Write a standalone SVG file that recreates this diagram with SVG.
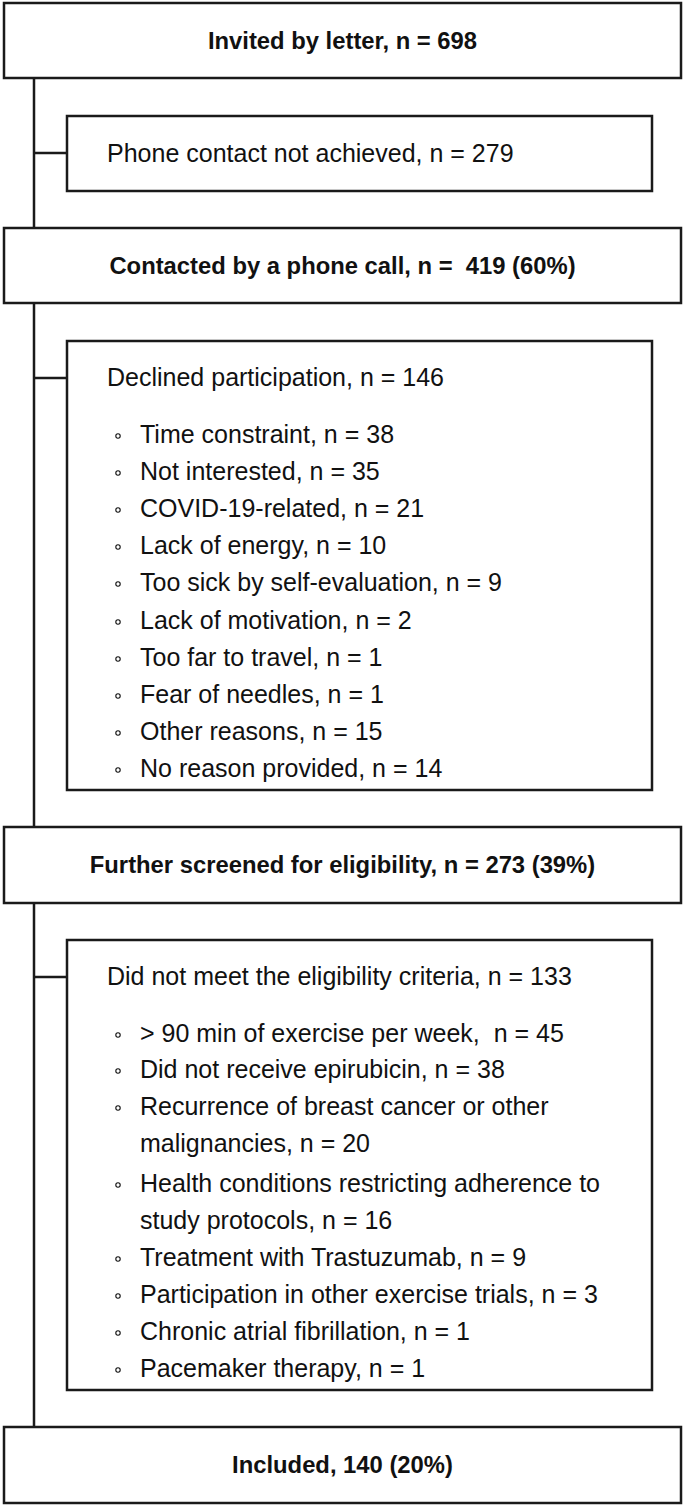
<svg xmlns="http://www.w3.org/2000/svg" width="685" height="1506" viewBox="0 0 685 1506">
<style>
.box{fill:#ffffff;stroke:#1a1a1a;stroke-width:2.5}
.ln{stroke:#1a1a1a;stroke-width:2.5;fill:none}
.t{font-family:"Liberation Sans",Arial,sans-serif;font-size:25px;fill:#111111}
.b{font-family:"Liberation Sans",Arial,sans-serif;font-size:23.8px;font-weight:bold;fill:#111111;text-anchor:middle}
.bul{fill:none;stroke:#111111;stroke-width:1.1}
</style>
<rect width="685" height="1506" fill="#ffffff"/>
<g id="connectors">
<line class="ln" x1="34" y1="78" x2="34" y2="1427"/>
<line class="ln" x1="34" y1="153" x2="67" y2="153"/>
<line class="ln" x1="34" y1="378" x2="67" y2="378"/>
<line class="ln" x1="34" y1="977" x2="67" y2="977"/>
</g>
<g id="invited">
<rect class="box" x="4" y="3" width="677" height="75"/>
<text class="b" x="342.5" y="49">Invited by letter, n = 698</text>
</g>
<g id="no-contact">
<rect class="box" x="67" y="116" width="585" height="75"/>
<text class="t" x="107" y="162">Phone contact not achieved, n = 279</text>
</g>
<g id="contacted">
<rect class="box" x="4" y="228" width="677" height="75"/>
<text class="b" x="342.5" y="274" xml:space="preserve">Contacted by a phone call, n =  419 (60%)</text>
</g>
<g id="declined">
<rect class="box" x="67" y="341" width="585" height="449"/>
<text class="t" x="107" y="386">Declined participation, n = 146</text>
<circle class="bul" cx="118" cy="436" r="2.2"/><text class="t" x="140" y="443">Time constraint, n = 38</text>
<circle class="bul" cx="118" cy="473" r="2.2"/><text class="t" x="140" y="480">Not interested, n = 35</text>
<circle class="bul" cx="118" cy="510" r="2.2"/><text class="t" x="140" y="517">COVID-19-related, n = 21</text>
<circle class="bul" cx="118" cy="547" r="2.2"/><text class="t" x="140" y="554">Lack of energy, n = 10</text>
<circle class="bul" cx="118" cy="584" r="2.2"/><text class="t" x="140" y="591">Too sick by self-evaluation, n = 9</text>
<circle class="bul" cx="118" cy="622" r="2.2"/><text class="t" x="140" y="629">Lack of motivation, n = 2</text>
<circle class="bul" cx="118" cy="659" r="2.2"/><text class="t" x="140" y="666">Too far to travel, n = 1</text>
<circle class="bul" cx="118" cy="696" r="2.2"/><text class="t" x="140" y="703">Fear of needles, n = 1</text>
<circle class="bul" cx="118" cy="733" r="2.2"/><text class="t" x="140" y="740">Other reasons, n = 15</text>
<circle class="bul" cx="118" cy="770" r="2.2"/><text class="t" x="140" y="777">No reason provided, n = 14</text>
</g>
<g id="screened">
<rect class="box" x="4" y="827" width="677" height="76"/>
<text class="b" x="342.5" y="873">Further screened for eligibility, n = 273 (39%)</text>
</g>
<g id="ineligible">
<rect class="box" x="67" y="940" width="585" height="450"/>
<text class="t" x="107" y="985">Did not meet the eligibility criteria, n = 133</text>
<circle class="bul" cx="118" cy="1035" r="2.2"/><text class="t" x="140" y="1042" xml:space="preserve">&gt; 90 min of exercise per week,  n = 45</text>
<circle class="bul" cx="118" cy="1071" r="2.2"/><text class="t" x="140" y="1078">Did not receive epirubicin, n = 38</text>
<circle class="bul" cx="118" cy="1108" r="2.2"/><text class="t" x="140" y="1115">Recurrence of breast cancer or other</text>
<text class="t" x="140" y="1152">malignancies, n = 20</text>
<circle class="bul" cx="118" cy="1185" r="2.2"/><text class="t" x="140" y="1192">Health conditions restricting adherence to</text>
<text class="t" x="140" y="1229">study protocols, n = 16</text>
<circle class="bul" cx="118" cy="1259" r="2.2"/><text class="t" x="140" y="1266">Treatment with Trastuzumab, n = 9</text>
<circle class="bul" cx="118" cy="1296" r="2.2"/><text class="t" x="140" y="1303">Participation in other exercise trials, n = 3</text>
<circle class="bul" cx="118" cy="1333" r="2.2"/><text class="t" x="140" y="1340">Chronic atrial fibrillation, n = 1</text>
<circle class="bul" cx="118" cy="1370" r="2.2"/><text class="t" x="140" y="1377">Pacemaker therapy, n = 1</text>
</g>
<g id="included">
<rect class="box" x="4" y="1427" width="677" height="76"/>
<text class="b" x="342.5" y="1473">Included, 140 (20%)</text>
</g>
</svg>
